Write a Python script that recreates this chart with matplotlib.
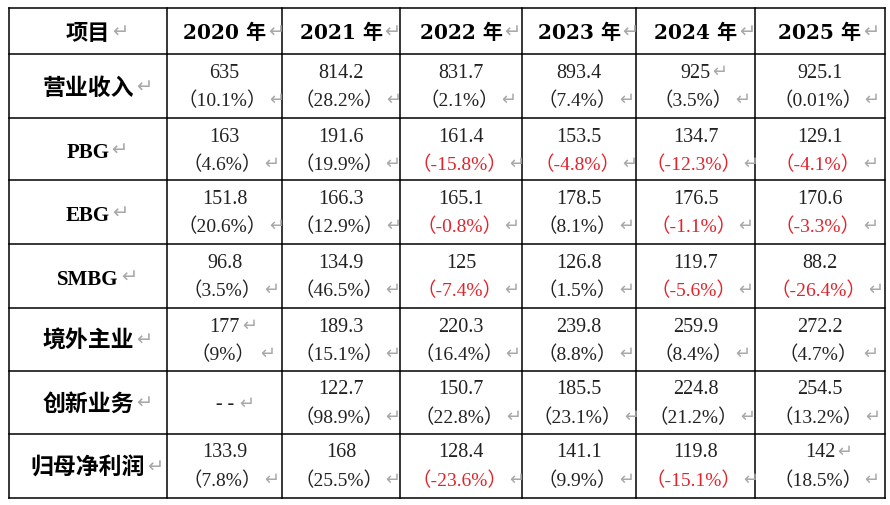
import matplotlib.pyplot as plt

# table content
years = ['2020 年', '2021 年', '2022 年', '2023 年', '2024 年', '2025 年']
items = ['营业收入', 'PBG', 'EBG', 'SMBG', '境外主业', '创新业务', '归母净利润']

revenue = ['635', '814.2', '831.7', '893.4', '925', '925.1']
revenue_yoy = ['10.1%', '28.2%', '2.1%', '7.4%', '3.5%', '0.01%']
pbg = ['163', '191.6', '161.4', '153.5', '134.7', '129.1']
pbg_yoy = ['4.6%', '19.9%', '-15.8%', '-4.8%', '-12.3%', '-4.1%']
ebg = ['151.8', '166.3', '165.1', '178.5', '176.5', '170.6']
ebg_yoy = ['20.6%', '12.9%', '-0.8%', '8.1%', '-1.1%', '-3.3%']
smbg = ['96.8', '134.9', '125', '126.8', '119.7', '88.2']
smbg_yoy = ['3.5%', '46.5%', '-7.4%', '1.5%', '-5.6%', '-26.4%']
overseas = ['177', '189.3', '220.3', '239.8', '259.9', '272.2']
overseas_yoy = ['9%', '15.1%', '16.4%', '8.8%', '8.4%', '4.7%']
innovation = ['--', '122.7', '150.7', '185.5', '224.8', '254.5']
innovation_yoy = [None, '98.9%', '22.8%', '23.1%', '21.2%', '13.2%']
net_profit = ['133.9', '168', '128.4', '141.1', '119.8', '142']
net_profit_yoy = ['7.8%', '25.5%', '-23.6%', '9.9%', '-15.1%', '18.5%']

values = [revenue, pbg, ebg, smbg, overseas, innovation, net_profit]
growth = [revenue_yoy, pbg_yoy, ebg_yoy, smbg_yoy, overseas_yoy, innovation_yoy, net_profit_yoy]

# cells where the paragraph mark sits after the first line (row, col)
mark_first = {(0, 4), (4, 0), (6, 5)}

# grid (pixels)
col_edges = [9, 167, 282, 400, 522, 636, 755, 885]
row_edges = [9, 55, 119, 181, 245, 309, 372, 435, 499]

NUM_FONT = ['Liberation Serif', 'Noto Sans CJK SC', 'DejaVu Sans']
CJK_FONT = ['Noto Sans CJK SC', 'DejaVu Sans']
HEAD_FONT = ['DejaVu Serif', 'Noto Sans CJK SC']
MARK_COLOR = '#a8a8a8'
RED = '#e3222a'
INK = '#222222'

fig = plt.figure(figsize=(8.9, 5.06), dpi=100)
ax = fig.add_axes([0, 0, 1, 1])
ax.set_xlim(0, 890)
ax.set_ylim(506, 0)
ax.axis('off')

for x in col_edges:
    ax.plot([x, x], [row_edges[0], row_edges[-1]], color='black', lw=1.1, solid_capstyle='projecting')
for y in row_edges:
    ax.plot([col_edges[0], col_edges[-1]], [y, y], color='black', lw=1.1, solid_capstyle='projecting')

fig.canvas.draw()
renderer = fig.canvas.get_renderer()
inv = ax.transData.inverted()


def right_edge(t):
    bb = t.get_window_extent(renderer)
    return inv.transform((bb.x1, bb.y0))[0]


def mark(x, y, size=13):
    # paragraph mark, drawn a bit above the text centre
    ax.text(x, y - 2, '\u21b5', ha='left', va='center', fontsize=size,
            family=['DejaVu Sans'], color=MARK_COLOR)


# header row
hy = (row_edges[0] + row_edges[1]) / 2 + 1
t = ax.text((col_edges[0] + col_edges[1]) / 2, hy, '项目', ha='center', va='center',
            fontsize=16, fontweight='bold', family=CJK_FONT)
mark(right_edge(t) + 2, hy + 1, 14)
for j, yr in enumerate(years):
    cx = (col_edges[j + 1] + col_edges[j + 2]) / 2
    t = ax.text(cx, hy, yr, ha='center', va='center', fontsize=14.5,
                fontweight='bold', family=HEAD_FONT)
    mark(right_edge(t) + 2, hy + 1, 14)

# body rows
for i, name in enumerate(items):
    top, bot = row_edges[i + 1], row_edges[i + 2]
    cy = (top + bot) / 2 + 1
    lx = (col_edges[0] + col_edges[1]) / 2
    if name.isascii():
        t = ax.text(lx, cy + 2, name, ha='center', va='center', fontsize=15,
                    fontweight='bold', family=['Liberation Serif'])
    else:
        t = ax.text(lx, cy, name, ha='center', va='center', fontsize=16.5,
                    fontweight='bold', family=CJK_FONT)
    mark(right_edge(t) + 2, cy + 1, 14)

    for j in range(len(years)):
        x0, x1 = col_edges[j + 1], col_edges[j + 2]
        cx = (x0 + x1) / 2
        v = values[i][j]
        g = growth[i][j]
        if g is None:
            t = ax.text(cx, cy, v, ha='center', va='center', fontsize=15,
                        family=['DejaVu Sans Mono'], color=INK)
            mark(right_edge(t) + 2, cy + 1)
            continue
        y1 = top + 18
        y2 = top + 46
        t = ax.text(cx, y1, v, ha='center', va='center', fontsize=14.5,
                    family=NUM_FONT, color=INK)
        if (i, j) in mark_first:
            mark(right_edge(t) + 2, y1 + 1)
        col = RED if g.startswith('-') else INK
        t = ax.text(cx - 2, y2, '（' + g + '）', ha='center', va='center', fontsize=14,
                    family=NUM_FONT, color=col)
        mx = max(right_edge(t) + 2, x1 - 22)
        mark(mx, y2 + 1)

fig.savefig('out.png', dpi=100)
